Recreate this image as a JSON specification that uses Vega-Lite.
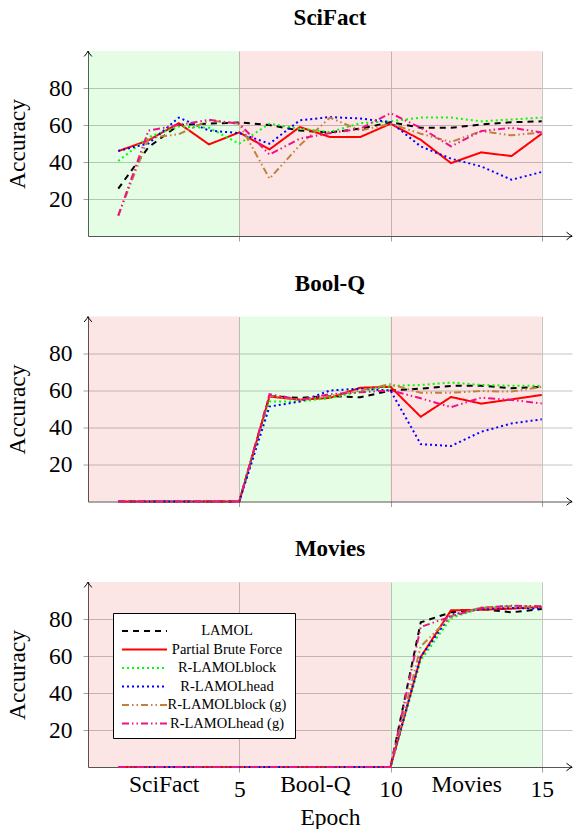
{
  "$schema": "https://vega.github.io/schema/vega-lite/v6.json",
  "padding": {"left": 5, "top": 7, "right": 0, "bottom": 0},
  "config": {
    "font": "Liberation Serif",
    "view": {"stroke": null},
    "axis": {"labelFont": "Liberation Serif", "labelFontSize": 23.5, "labelColor": "black", "titleFont": "Liberation Serif", "titleFontSize": 23.5, "titleFontWeight": "normal", "titleColor": "black", "gridColor": "#c4c4c4", "gridWidth": 1, "tickColor": "#a0a0a0", "domainColor": "#555555", "labelFlush": false, "labelOverlap": false},
    "title": {"font": "Liberation Serif", "fontSize": 23, "fontWeight": "bold", "color": "black", "offset": 19, "anchor": "middle"}
  },
  "datasets": {
    "acc": [
      {"task": "SciFact", "epoch": 1, "LAMOL": 25.6, "Partial Brute Force": 45.9, "R-LAMOLblock": 40.5, "R-LAMOLhead": 46, "R-LAMOLblock (g)": 11, "R-LAMOLhead (g)": 11},
      {"task": "SciFact", "epoch": 2, "LAMOL": 48, "Partial Brute Force": 51.7, "R-LAMOLblock": 53.5, "R-LAMOLhead": 50, "R-LAMOLblock (g)": 53, "R-LAMOLhead (g)": 57},
      {"task": "SciFact", "epoch": 3, "LAMOL": 60, "Partial Brute Force": 61, "R-LAMOLblock": 59.2, "R-LAMOLhead": 64, "R-LAMOLblock (g)": 55, "R-LAMOLhead (g)": 60},
      {"task": "SciFact", "epoch": 4, "LAMOL": 60.7, "Partial Brute Force": 49.5, "R-LAMOLblock": 58.5, "R-LAMOLhead": 57, "R-LAMOLblock (g)": 62.5, "R-LAMOLhead (g)": 62.8},
      {"task": "SciFact", "epoch": 5, "LAMOL": 61.4, "Partial Brute Force": 56, "R-LAMOLblock": 49.9, "R-LAMOLhead": 55.6, "R-LAMOLblock (g)": 60.7, "R-LAMOLhead (g)": 60.7},
      {"task": "SciFact", "epoch": 6, "LAMOL": 60, "Partial Brute Force": 46.8, "R-LAMOLblock": 60.7, "R-LAMOLhead": 49.9, "R-LAMOLblock (g)": 31, "R-LAMOLhead (g)": 44},
      {"task": "SciFact", "epoch": 7, "LAMOL": 57, "Partial Brute Force": 58.9, "R-LAMOLblock": 58, "R-LAMOLhead": 62.5, "R-LAMOLblock (g)": 49, "R-LAMOLhead (g)": 52.6},
      {"task": "SciFact", "epoch": 8, "LAMOL": 56, "Partial Brute Force": 53.5, "R-LAMOLblock": 56.2, "R-LAMOLhead": 64.3, "R-LAMOLblock (g)": 64, "R-LAMOLhead (g)": 55.6},
      {"task": "SciFact", "epoch": 9, "LAMOL": 58, "Partial Brute Force": 53.5, "R-LAMOLblock": 61, "R-LAMOLhead": 63.5, "R-LAMOLblock (g)": 57, "R-LAMOLhead (g)": 58},
      {"task": "SciFact", "epoch": 10, "LAMOL": 61.5, "Partial Brute Force": 60.7, "R-LAMOLblock": 62, "R-LAMOLhead": 61.6, "R-LAMOLblock (g)": 60.7, "R-LAMOLhead (g)": 66.4},
      {"task": "SciFact", "epoch": 11, "LAMOL": 58.5, "Partial Brute Force": 52, "R-LAMOLblock": 64, "R-LAMOLhead": 48.4, "R-LAMOLblock (g)": 55.3, "R-LAMOLhead (g)": 58.5},
      {"task": "SciFact", "epoch": 12, "LAMOL": 58.5, "Partial Brute Force": 39.4, "R-LAMOLblock": 64, "R-LAMOLhead": 41.8, "R-LAMOLblock (g)": 50.8, "R-LAMOLhead (g)": 48.4},
      {"task": "SciFact", "epoch": 13, "LAMOL": 60.3, "Partial Brute Force": 45.2, "R-LAMOLblock": 62, "R-LAMOLhead": 37.6, "R-LAMOLblock (g)": 56.7, "R-LAMOLhead (g)": 56.7},
      {"task": "SciFact", "epoch": 14, "LAMOL": 61.5, "Partial Brute Force": 43.2, "R-LAMOLblock": 63, "R-LAMOLhead": 30.4, "R-LAMOLblock (g)": 54.4, "R-LAMOLhead (g)": 58.5},
      {"task": "SciFact", "epoch": 15, "LAMOL": 62, "Partial Brute Force": 55.3, "R-LAMOLblock": 64, "R-LAMOLhead": 34.6, "R-LAMOLblock (g)": 56, "R-LAMOLhead (g)": 56},
      {"task": "Bool-Q", "epoch": 1, "LAMOL": 0, "Partial Brute Force": 0, "R-LAMOLblock": 0, "R-LAMOLhead": 0, "R-LAMOLblock (g)": 0, "R-LAMOLhead (g)": 0},
      {"task": "Bool-Q", "epoch": 2, "LAMOL": 0, "Partial Brute Force": 0, "R-LAMOLblock": 0, "R-LAMOLhead": 0, "R-LAMOLblock (g)": 0, "R-LAMOLhead (g)": 0},
      {"task": "Bool-Q", "epoch": 3, "LAMOL": 0, "Partial Brute Force": 0, "R-LAMOLblock": 0, "R-LAMOLhead": 0, "R-LAMOLblock (g)": 0, "R-LAMOLhead (g)": 0},
      {"task": "Bool-Q", "epoch": 4, "LAMOL": 0, "Partial Brute Force": 0, "R-LAMOLblock": 0, "R-LAMOLhead": 0, "R-LAMOLblock (g)": 0, "R-LAMOLhead (g)": 0},
      {"task": "Bool-Q", "epoch": 5, "LAMOL": 0, "Partial Brute Force": 0, "R-LAMOLblock": 0, "R-LAMOLhead": 0, "R-LAMOLblock (g)": 0, "R-LAMOLhead (g)": 0},
      {"task": "Bool-Q", "epoch": 6, "LAMOL": 57, "Partial Brute Force": 56.7, "R-LAMOLblock": 54, "R-LAMOLhead": 51.3, "R-LAMOLblock (g)": 57, "R-LAMOLhead (g)": 58},
      {"task": "Bool-Q", "epoch": 7, "LAMOL": 56, "Partial Brute Force": 55, "R-LAMOLblock": 54, "R-LAMOLhead": 54, "R-LAMOLblock (g)": 55, "R-LAMOLhead (g)": 55},
      {"task": "Bool-Q", "epoch": 8, "LAMOL": 57, "Partial Brute Force": 56, "R-LAMOLblock": 56, "R-LAMOLhead": 60, "R-LAMOLblock (g)": 57, "R-LAMOLhead (g)": 58},
      {"task": "Bool-Q", "epoch": 9, "LAMOL": 56.3, "Partial Brute Force": 61.5, "R-LAMOLblock": 59.4, "R-LAMOLhead": 61, "R-LAMOLblock (g)": 60, "R-LAMOLhead (g)": 59},
      {"task": "Bool-Q", "epoch": 10, "LAMOL": 60, "Partial Brute Force": 62, "R-LAMOLblock": 62.5, "R-LAMOLhead": 60, "R-LAMOLblock (g)": 63.4, "R-LAMOLhead (g)": 60},
      {"task": "Bool-Q", "epoch": 11, "LAMOL": 61, "Partial Brute Force": 45.8, "R-LAMOLblock": 63, "R-LAMOLhead": 31, "R-LAMOLblock (g)": 58.8, "R-LAMOLhead (g)": 55.8},
      {"task": "Bool-Q", "epoch": 12, "LAMOL": 62.5, "Partial Brute Force": 56.5, "R-LAMOLblock": 64.3, "R-LAMOLhead": 30, "R-LAMOLblock (g)": 58.8, "R-LAMOLhead (g)": 51},
      {"task": "Bool-Q", "epoch": 13, "LAMOL": 62.6, "Partial Brute Force": 52.9, "R-LAMOLblock": 63, "R-LAMOLhead": 37.7, "R-LAMOLblock (g)": 59.7, "R-LAMOLhead (g)": 56.1},
      {"task": "Bool-Q", "epoch": 14, "LAMOL": 61.2, "Partial Brute Force": 55.2, "R-LAMOLblock": 62.6, "R-LAMOLhead": 42.2, "R-LAMOLblock (g)": 59.4, "R-LAMOLhead (g)": 54.9},
      {"task": "Bool-Q", "epoch": 15, "LAMOL": 62, "Partial Brute Force": 57.6, "R-LAMOLblock": 62.6, "R-LAMOLhead": 44.4, "R-LAMOLblock (g)": 61.9, "R-LAMOLhead (g)": 53},
      {"task": "Movies", "epoch": 1, "LAMOL": 0, "Partial Brute Force": 0, "R-LAMOLblock": 0, "R-LAMOLhead": 0, "R-LAMOLblock (g)": 0, "R-LAMOLhead (g)": 0},
      {"task": "Movies", "epoch": 2, "LAMOL": 0, "Partial Brute Force": 0, "R-LAMOLblock": 0, "R-LAMOLhead": 0, "R-LAMOLblock (g)": 0, "R-LAMOLhead (g)": 0},
      {"task": "Movies", "epoch": 3, "LAMOL": 0, "Partial Brute Force": 0, "R-LAMOLblock": 0, "R-LAMOLhead": 0, "R-LAMOLblock (g)": 0, "R-LAMOLhead (g)": 0},
      {"task": "Movies", "epoch": 4, "LAMOL": 0, "Partial Brute Force": 0, "R-LAMOLblock": 0, "R-LAMOLhead": 0, "R-LAMOLblock (g)": 0, "R-LAMOLhead (g)": 0},
      {"task": "Movies", "epoch": 5, "LAMOL": 0, "Partial Brute Force": 0, "R-LAMOLblock": 0, "R-LAMOLhead": 0, "R-LAMOLblock (g)": 0, "R-LAMOLhead (g)": 0},
      {"task": "Movies", "epoch": 6, "LAMOL": 0, "Partial Brute Force": 0, "R-LAMOLblock": 0, "R-LAMOLhead": 0, "R-LAMOLblock (g)": 0, "R-LAMOLhead (g)": 0},
      {"task": "Movies", "epoch": 7, "LAMOL": 0, "Partial Brute Force": 0, "R-LAMOLblock": 0, "R-LAMOLhead": 0, "R-LAMOLblock (g)": 0, "R-LAMOLhead (g)": 0},
      {"task": "Movies", "epoch": 8, "LAMOL": 0, "Partial Brute Force": 0, "R-LAMOLblock": 0, "R-LAMOLhead": 0, "R-LAMOLblock (g)": 0, "R-LAMOLhead (g)": 0},
      {"task": "Movies", "epoch": 9, "LAMOL": 0, "Partial Brute Force": 0, "R-LAMOLblock": 0, "R-LAMOLhead": 0, "R-LAMOLblock (g)": 0, "R-LAMOLhead (g)": 0},
      {"task": "Movies", "epoch": 10, "LAMOL": 0, "Partial Brute Force": 0, "R-LAMOLblock": 0, "R-LAMOLhead": 0, "R-LAMOLblock (g)": 0, "R-LAMOLhead (g)": 0},
      {"task": "Movies", "epoch": 11, "LAMOL": 78.2, "Partial Brute Force": 59.5, "R-LAMOLblock": 57.7, "R-LAMOLhead": 59.5, "R-LAMOLblock (g)": 65.2, "R-LAMOLhead (g)": 75.7},
      {"task": "Movies", "epoch": 12, "LAMOL": 83.6, "Partial Brute Force": 84.7, "R-LAMOLblock": 80.5, "R-LAMOLhead": 82.3, "R-LAMOLblock (g)": 81.4, "R-LAMOLhead (g)": 81.4},
      {"task": "Movies", "epoch": 13, "LAMOL": 85.4, "Partial Brute Force": 85, "R-LAMOLblock": 86, "R-LAMOLhead": 85.4, "R-LAMOLblock (g)": 86.3, "R-LAMOLhead (g)": 86},
      {"task": "Movies", "epoch": 14, "LAMOL": 83.6, "Partial Brute Force": 85.6, "R-LAMOLblock": 86.9, "R-LAMOLhead": 86, "R-LAMOLblock (g)": 86.9, "R-LAMOLhead (g)": 87.2},
      {"task": "Movies", "epoch": 15, "LAMOL": 85.4, "Partial Brute Force": 86.5, "R-LAMOLblock": 86.9, "R-LAMOLhead": 85.6, "R-LAMOLblock (g)": 86.5, "R-LAMOLhead (g)": 86.9}
    ],
    "bg": [
      {"task": "SciFact", "start": 0, "end": 5, "kind": "train"},
      {"task": "SciFact", "start": 5, "end": 15, "kind": "other"},
      {"task": "Bool-Q", "start": 0, "end": 5, "kind": "other"},
      {"task": "Bool-Q", "start": 5, "end": 10, "kind": "train"},
      {"task": "Bool-Q", "start": 10, "end": 15, "kind": "other"},
      {"task": "Movies", "start": 0, "end": 10, "kind": "other"},
      {"task": "Movies", "start": 10, "end": 15, "kind": "train"}
    ],
    "one": [{}]
  },
  "bounds": "flush",
  "spacing": 80.5,
  "resolve": {"scale": {"color": "independent", "strokeDash": "independent", "fill": "independent"}, "legend": {"color": "independent", "strokeDash": "independent", "fill": "independent"}},
  "vconcat": [
    {
      "title": "SciFact",
      "width": 484, "height": 185,
      "layer": [
        {"data": {"name": "bg"}, "transform": [{"filter": "datum.task === 'SciFact'"}],
         "mark": {"type": "rect", "opacity": 0.1},
         "encoding": {
           "x": {"field": "start", "type": "quantitative", "scale": {"domain": [0, 16], "nice": false}, "axis": {"values": [5, 10, 15], "labels": false, "title": null, "grid": true, "tickSize": 5}},
           "x2": {"field": "end"},
           "y": {"datum": 0, "type": "quantitative", "scale": {"domain": [0, 100], "nice": false}, "axis": {"values": [20, 40, 60, 80], "title": "Accuracy", "grid": true, "tickSize": 5, "labelPadding": 11, "titlePadding": 19}},
           "y2": {"datum": 100},
           "fill": {"field": "kind", "type": "nominal", "scale": {"domain": ["train", "other"], "range": ["#00e600", "#e60000"]}, "legend": null}
         }},
        {"data": {"name": "acc"}, "transform": [{"filter": "datum.task === 'SciFact'"}, {"fold": ["LAMOL", "Partial Brute Force", "R-LAMOLblock", "R-LAMOLhead", "R-LAMOLblock (g)", "R-LAMOLhead (g)"], "as": ["method", "acc"]}],
         "mark": {"type": "line", "strokeWidth": 2},
         "encoding": {
           "x": {"field": "epoch", "type": "quantitative"},
           "y": {"field": "acc", "type": "quantitative"},
           "color": {"field": "method", "type": "nominal", "scale": {"domain": ["LAMOL", "Partial Brute Force", "R-LAMOLblock", "R-LAMOLhead", "R-LAMOLblock (g)", "R-LAMOLhead (g)"], "range": ["#000000", "#ff0000", "#00ff00", "#0000ff", "#bf8040", "#ee1289"]}, "legend": null},
           "strokeDash": {"field": "method", "type": "nominal", "scale": {"domain": ["LAMOL", "Partial Brute Force", "R-LAMOLblock", "R-LAMOLhead", "R-LAMOLblock (g)", "R-LAMOLhead (g)"], "range": [[6, 5], [1, 0], [2, 3], [2, 3], [7, 3, 1.5, 3, 1.5, 3], [7, 3, 1.5, 3, 1.5, 3]]}, "legend": null}
         }},
        {"data": {"name": "one"}, "mark": {"type": "point", "shape": "M-1,-0.7 Q-0.3,-0.1 0,0 Q-0.3,0.1 -1,0.7", "filled": false, "stroke": "black", "strokeWidth": 1, "size": 120, "opacity": 1},
         "encoding": {"x": {"datum": 16, "type": "quantitative"}, "y": {"datum": 0, "type": "quantitative"}}},
        {"data": {"name": "one"}, "mark": {"type": "point", "shape": "M-0.7,1 Q-0.1,0.3 0,0 Q0.1,0.3 0.7,1", "filled": false, "stroke": "black", "strokeWidth": 1, "size": 120, "opacity": 1},
         "encoding": {"x": {"datum": 0, "type": "quantitative"}, "y": {"datum": 100, "type": "quantitative"}}}
      ]
    },
    {
      "title": "Bool-Q",
      "width": 484, "height": 185,
      "layer": [
        {"data": {"name": "bg"}, "transform": [{"filter": "datum.task === 'Bool-Q'"}],
         "mark": {"type": "rect", "opacity": 0.1},
         "encoding": {
           "x": {"field": "start", "type": "quantitative", "scale": {"domain": [0, 16], "nice": false}, "axis": {"values": [5, 10, 15], "labels": false, "title": null, "grid": true, "tickSize": 5}},
           "x2": {"field": "end"},
           "y": {"datum": 0, "type": "quantitative", "scale": {"domain": [0, 100], "nice": false}, "axis": {"values": [20, 40, 60, 80], "title": "Accuracy", "grid": true, "tickSize": 5, "labelPadding": 11, "titlePadding": 19}},
           "y2": {"datum": 100},
           "fill": {"field": "kind", "type": "nominal", "scale": {"domain": ["train", "other"], "range": ["#00e600", "#e60000"]}, "legend": null}
         }},
        {"data": {"name": "acc"}, "transform": [{"filter": "datum.task === 'Bool-Q'"}, {"fold": ["LAMOL", "Partial Brute Force", "R-LAMOLblock", "R-LAMOLhead", "R-LAMOLblock (g)", "R-LAMOLhead (g)"], "as": ["method", "acc"]}],
         "mark": {"type": "line", "strokeWidth": 2},
         "encoding": {
           "x": {"field": "epoch", "type": "quantitative"},
           "y": {"field": "acc", "type": "quantitative"},
           "color": {"field": "method", "type": "nominal", "scale": {"domain": ["LAMOL", "Partial Brute Force", "R-LAMOLblock", "R-LAMOLhead", "R-LAMOLblock (g)", "R-LAMOLhead (g)"], "range": ["#000000", "#ff0000", "#00ff00", "#0000ff", "#bf8040", "#ee1289"]}, "legend": null},
           "strokeDash": {"field": "method", "type": "nominal", "scale": {"domain": ["LAMOL", "Partial Brute Force", "R-LAMOLblock", "R-LAMOLhead", "R-LAMOLblock (g)", "R-LAMOLhead (g)"], "range": [[6, 5], [1, 0], [2, 3], [2, 3], [7, 3, 1.5, 3, 1.5, 3], [7, 3, 1.5, 3, 1.5, 3]]}, "legend": null}
         }},
        {"data": {"name": "one"}, "mark": {"type": "point", "shape": "M-1,-0.7 Q-0.3,-0.1 0,0 Q-0.3,0.1 -1,0.7", "filled": false, "stroke": "black", "strokeWidth": 1, "size": 120, "opacity": 1},
         "encoding": {"x": {"datum": 16, "type": "quantitative"}, "y": {"datum": 0, "type": "quantitative"}}},
        {"data": {"name": "one"}, "mark": {"type": "point", "shape": "M-0.7,1 Q-0.1,0.3 0,0 Q0.1,0.3 0.7,1", "filled": false, "stroke": "black", "strokeWidth": 1, "size": 120, "opacity": 1},
         "encoding": {"x": {"datum": 0, "type": "quantitative"}, "y": {"datum": 100, "type": "quantitative"}}}
      ]
    },
    {
      "title": "Movies",
      "width": 484, "height": 185,
      "layer": [
        {"data": {"name": "bg"}, "transform": [{"filter": "datum.task === 'Movies'"}],
         "mark": {"type": "rect", "opacity": 0.1},
         "encoding": {
           "x": {"field": "start", "type": "quantitative", "scale": {"domain": [0, 16], "nice": false}, "axis": {"values": [2.5, 5, 7.5, 10, 12.5, 15], "labelExpr": "datum.value == 2.5 ? 'SciFact' : datum.value == 7.5 ? 'Bool-Q' : datum.value == 12.5 ? 'Movies' : datum.label", "title": "Epoch", "titlePadding": 5, "grid": true, "tickSize": 5,
             "gridOpacity": {"condition": {"test": "datum.value % 5 === 0", "value": 1}, "value": 0},
             "tickOpacity": {"condition": {"test": "datum.value % 5 === 0", "value": 1}, "value": 0},
             "labelPadding": {"condition": {"test": "datum.value % 5 === 0", "value": 5}, "value": 0}}},
           "x2": {"field": "end"},
           "y": {"datum": 0, "type": "quantitative", "scale": {"domain": [0, 100], "nice": false}, "axis": {"values": [20, 40, 60, 80], "title": "Accuracy", "grid": true, "tickSize": 5, "labelPadding": 11, "titlePadding": 19}},
           "y2": {"datum": 100},
           "fill": {"field": "kind", "type": "nominal", "scale": {"domain": ["train", "other"], "range": ["#00e600", "#e60000"]}, "legend": null}
         }},
        {"data": {"name": "acc"}, "transform": [{"filter": "datum.task === 'Movies'"}, {"fold": ["LAMOL", "Partial Brute Force", "R-LAMOLblock", "R-LAMOLhead", "R-LAMOLblock (g)", "R-LAMOLhead (g)"], "as": ["method", "acc"]}],
         "mark": {"type": "line", "strokeWidth": 2},
         "encoding": {
           "x": {"field": "epoch", "type": "quantitative"},
           "y": {"field": "acc", "type": "quantitative"},
           "color": {"field": "method", "type": "nominal", "scale": {"domain": ["LAMOL", "Partial Brute Force", "R-LAMOLblock", "R-LAMOLhead", "R-LAMOLblock (g)", "R-LAMOLhead (g)"], "range": ["#000000", "#ff0000", "#00ff00", "#0000ff", "#bf8040", "#ee1289"]},
             "legend": {"orient": "none", "legendX": 25, "legendY": 31, "title": null, "fillColor": "white", "strokeColor": "black", "padding": 8, "labelFont": "Liberation Serif", "labelFontSize": 14.5, "labelColor": "black", "symbolType": "M-1,0L4,0", "symbolSize": 324, "symbolStrokeWidth": 2, "symbolFillColor": "transparent", "labelLimit": 300, "labelAlign": "center", "labelOffset": 86, "rowPadding": 1.5}},
           "strokeDash": {"field": "method", "type": "nominal", "scale": {"domain": ["LAMOL", "Partial Brute Force", "R-LAMOLblock", "R-LAMOLhead", "R-LAMOLblock (g)", "R-LAMOLhead (g)"], "range": [[6, 5], [1, 0], [2, 3], [2, 3], [7, 3, 1.5, 3, 1.5, 3], [7, 3, 1.5, 3, 1.5, 3]]},
             "legend": {"orient": "none", "legendX": 25, "legendY": 31, "title": null, "fillColor": "white", "strokeColor": "black", "padding": 8, "labelFont": "Liberation Serif", "labelFontSize": 14.5, "labelColor": "black", "symbolType": "M-1,0L4,0", "symbolSize": 324, "symbolStrokeWidth": 2, "symbolFillColor": "transparent", "labelLimit": 300, "labelAlign": "center", "labelOffset": 86, "rowPadding": 1.5}}
         }},
        {"data": {"name": "one"}, "mark": {"type": "point", "shape": "M-1,-0.7 Q-0.3,-0.1 0,0 Q-0.3,0.1 -1,0.7", "filled": false, "stroke": "black", "strokeWidth": 1, "size": 120, "opacity": 1},
         "encoding": {"x": {"datum": 16, "type": "quantitative"}, "y": {"datum": 0, "type": "quantitative"}}},
        {"data": {"name": "one"}, "mark": {"type": "point", "shape": "M-0.7,1 Q-0.1,0.3 0,0 Q0.1,0.3 0.7,1", "filled": false, "stroke": "black", "strokeWidth": 1, "size": 120, "opacity": 1},
         "encoding": {"x": {"datum": 0, "type": "quantitative"}, "y": {"datum": 100, "type": "quantitative"}}}
      ]
    }
  ]
}
